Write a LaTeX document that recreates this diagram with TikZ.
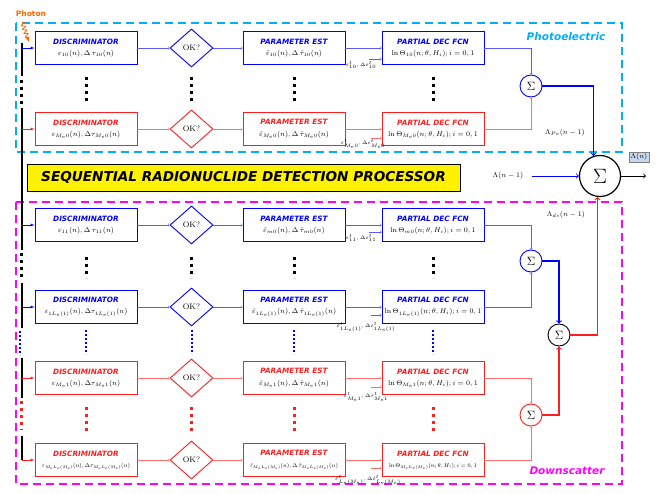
\documentclass[tikz,border=0pt]{standalone}
\usepackage{fontspec}
\usepackage{graphicx}
\usetikzlibrary{shapes.geometric,decorations.pathmorphing}
\newfontfamily\hfont{DejaVu Sans}
\definecolor{pblue}{RGB}{0,0,255}
\definecolor{lblue}{RGB}{90,90,255}
\definecolor{pred}{RGB}{255,30,30}
\definecolor{lred}{RGB}{255,110,110}
\definecolor{pcyan}{RGB}{0,176,240}
\definecolor{pmag}{RGB}{255,0,255}
\definecolor{porange}{RGB}{255,102,0}
\definecolor{outfill}{RGB}{200,215,240}
\newcommand{\blueh}[1]{{\hfont\bfseries\itshape\fontsize{7.3}{8}\selectfont\color{pblue}#1}}
\newcommand{\redh}[1]{{\hfont\bfseries\itshape\fontsize{7.3}{8}\selectfont\color{pred}#1}}
\newcommand{\fitmath}[1]{\resizebox{88pt}{!}{$#1$}}
\begin{document}
\begin{tikzpicture}[x=1pt, y=-1pt]
    \tikzset{
        blk/.style={draw, line width=0.9pt, minimum width=102pt, minimum height=33pt, align=center, inner sep=1pt, fill=white, font=\scriptsize},
        blkb/.style={blk, draw=pblue},
        blkr/.style={blk, draw=pred},
        okd/.style={draw, diamond, line width=0.9pt, minimum width=43pt, minimum height=38pt, inner sep=0pt, font=\footnotesize},
        sumc/.style={draw, circle, line width=0.9pt, minimum size=22pt, inner sep=0pt},
        lbl/.style={font=\tiny, inner sep=0pt},
        dotsq/.style={line width=3pt, dash pattern=on 3pt off 4pt},
        dotsm/.style={line width=2pt, dash pattern=on 2pt off 2pt}
        }
    \useasboundingbox (0,0) rectangle (665,494);

    % regions
    \draw[pcyan, line width=2pt, dash pattern=on 8pt off 5pt] (16,23) rectangle (622,152);
    \draw[pmag, line width=1.8pt, dash pattern=on 8pt off 5pt] (16,202) rectangle (622,484);
    \node (pelbl) [font=\hfont\bfseries\itshape\fontsize{10.5}{12}\selectfont, text=pcyan] at (566,37) {Photoelectric};
    \node (dslbl) [font=\hfont\bfseries\itshape\fontsize{10.5}{12}\selectfont, text=pmag] at (567,471) {Downscatter};

    % photon input
    \node (photon) [font=\hfont\bfseries\fontsize{7.5}{9}\selectfont, text=porange] at (31,14) {Photon};
    \coordinate (phin) at (29,42);
    \draw[porange, line width=0.8pt, decorate, decoration={snake, amplitude=2pt, segment length=4pt, post length=3pt}, -latex] (22,22) -- (phin);

    % input bus
    \draw[line width=1.6pt] (22,43) -- (22,76);
    \draw[dotsq] (21,80) -- (21,104);
    \draw[line width=1.6pt] (22,108) -- (22,250);
    \draw[dotsq] (21,253) -- (21,278);
    \draw[line width=1.6pt] (22,283) -- (22,328);
    \draw[dotsm, pblue] (20,331) -- (20,355);
    \draw[line width=1.6pt] (22,358) -- (22,398);
    \draw[dotsq, pred] (21,401) -- (21,430);
    \draw[line width=1.6pt] (22,436) -- (22,460);

    % banner
    \node (banner) [draw, fill=yellow, minimum width=433pt, minimum height=27pt, font=\hfont\bfseries\itshape\fontsize{13.6}{15}\selectfont] at (243.5,177.5) {SEQUENTIAL RADIONUCLIDE DETECTION PROCESSOR};

    % photoelectric rows
    \node (d1) [blkb] at (86,48) {\blueh{DISCRIMINATOR}\\[3pt] $\varepsilon_{10}(n),\Delta\,\tau_{10}(n)$};
    \node (o1) [okd, draw=pblue] at (191.5,48) {OK?};
    \node (p1) [blkb] at (294,48) {\blueh{PARAMETER EST}\\[3pt] $\hat{\varepsilon}_{10}(n),\Delta\,\hat{\tau}_{10}(n)$};
    \node (f1) [blkb] at (433,48) {\blueh{PARTIAL DEC FCN}\\[3pt] $\ln\Theta_{10}(n;\theta,H_i);i=0,1$};

    \node (d2) [blkr] at (86,129) {\redh{DISCRIMINATOR}\\[3pt] $\varepsilon_{M_e0}(n),\Delta\tau_{M_e0}(n)$};
    \node (o2) [okd, draw=pred] at (191.5,129) {OK?};
    \node (p2) [blkr] at (294,129) {\redh{PARAMETER EST}\\[4pt] $\hat{\varepsilon}_{M_e0}(n),\Delta\,\hat{\tau}_{M_e0}(n)$};
    \node (f2) [blkr] at (433,129) {\redh{PARTIAL DEC FCN}\\[3pt] $\ln\Theta_{M_e0}(n;\theta,H_i);i=0,1$};

    % downscatter rows
    \node (d3) [blkb] at (86,225) {\blueh{DISCRIMINATOR}\\[3pt] $\varepsilon_{11}(n),\Delta\,\tau_{11}(n)$};
    \node (o3) [okd, draw=pblue] at (191.5,225) {OK?};
    \node (p3) [blkb] at (294,225) {\blueh{PARAMETER EST}\\[3pt] $\hat{\varepsilon}_{m0}(n),\Delta\,\hat{\tau}_{m0}(n)$};
    \node (f3) [blkb] at (433,225) {\blueh{PARTIAL DEC FCN}\\[3pt] $\ln\Theta_{m0}(n;\theta,H_i);i=0,1$};

    \node (d4) [blkb] at (86,307) {\blueh{DISCRIMINATOR}\\[3pt] $\varepsilon_{1L_e(1)}(n),\Delta\tau_{1L_e(1)}(n)$};
    \node (o4) [okd, draw=pblue] at (191.5,307) {OK?};
    \node (p4) [blkb] at (294,307) {\blueh{PARAMETER EST}\\[3pt] $\hat{\varepsilon}_{1L_e(1)}(n),\Delta\,\hat{\tau}_{1L_e(1)}(n)$};
    \node (f4) [blkb] at (433,307) {\blueh{PARTIAL DEC FCN}\\[3pt] $\ln\Theta_{1L_e(1)}(n;\theta,H_i);i=0,1$};

    \node (d5) [blkr] at (86,378) {\redh{DISCRIMINATOR}\\[3pt] $\varepsilon_{M_e1}(n),\Delta\tau_{M_e1}(n)$};
    \node (o5) [okd, draw=pred] at (191.5,378) {OK?};
    \node (p5) [blkr] at (294,378) {\redh{PARAMETER EST}\\[4pt] $\hat{\varepsilon}_{M_e1}(n),\Delta\,\hat{\tau}_{M_e1}(n)$};
    \node (f5) [blkr] at (433,378) {\redh{PARTIAL DEC FCN}\\[3pt] $\ln\Theta_{M_e1}(n;\theta,H_i);i=0,1$};

    \node (d6) [blkr] at (86,460) {\redh{DISCRIMINATOR}\\[3pt] \fitmath{\varepsilon_{M_eL_e(M_e)}(n),\Delta\tau_{M_eL_e(M_e)}(n)}};
    \node (o6) [okd, draw=pred] at (191.5,460) {OK?};
    \node (p6) [blkr] at (294,460) {\redh{PARAMETER EST}\\[4pt] \fitmath{\hat{\varepsilon}_{M_eL_e(M_e)}(n),\Delta\,\hat{\tau}_{M_eL_e(M_e)}(n)}};
    \node (f6) [blkr] at (433,460) {\redh{PARTIAL DEC FCN}\\[3pt] \fitmath{\ln\Theta_{M_eL_e(M_e)}(n;\theta,H_i);i=0,1}};

    % vertical dots
    \draw[dotsq] (86,77) -- (86,101);  \draw[dotsq] (191.5,77) -- (191.5,101);
    \draw[dotsq] (294,77) -- (294,101); \draw[dotsq] (433,77) -- (433,101);
    \draw[dotsq] (86,257) -- (86,278);  \draw[dotsq] (191.5,257) -- (191.5,278);
    \draw[dotsq] (294,257) -- (294,278); \draw[dotsq] (433,257) -- (433,278);
    \draw[dotsm, pblue] (86,330) -- (86,354);  \draw[dotsm, pblue] (191.5,330) -- (191.5,354);
    \draw[dotsm, pblue] (294,330) -- (294,354); \draw[dotsm, pblue] (433,330) -- (433,354);
    \draw[dotsq, pred] (86,407) -- (86,431);  \draw[dotsq, pred] (191.5,407) -- (191.5,431);
    \draw[dotsq, pred] (294,407) -- (294,431); \draw[dotsq, pred] (433,407) -- (433,431);

    % feeds from bus
    \draw[-latex, pblue] (d1.west) ++(-13,0) -- (d1.west);
    \draw[-latex, pred] (d2.west) ++(-13,0) -- (d2.west);
    \draw[-latex, pblue] (d3.west) ++(-13,0) -- (d3.west);
    \draw[-latex, pblue] (d4.west) ++(-13,0) -- (d4.west);
    \draw[-latex, pred] (d5.west) ++(-13,0) -- (d5.west);
    \draw[-latex, pred] (d6.west) ++(-13,0) -- (d6.west);

    % row chains
    \draw[->, lblue] (d1) -- (o1); \draw[->, lblue] (o1) -- (p1); \draw[->, lblue] (p1) -- (f1);
    \draw[->, lred] (d2) -- (o2); \draw[->, lred] (o2) -- (p2); \draw[->, lred] (p2) -- (f2);
    \draw[->, lblue] (d3) -- (o3); \draw[->, lblue] (o3) -- (p3); \draw[->, lblue] (p3) -- (f3);
    \draw[->, lblue] (d4) -- (o4); \draw[->, lblue] (o4) -- (p4); \draw[->, lblue] (p4) -- (f4);
    \draw[->, lred] (d5) -- (o5); \draw[->, lred] (o5) -- (p5); \draw[->, lred] (p5) -- (f5);
    \draw[->, lred] (d6) -- (o6); \draw[->, lred] (o6) -- (p6); \draw[->, lred] (p6) -- (f6);

    % threshold inputs
    \coordinate (t1) at (369,59);  \draw[->, lblue] (t1) -- (t1 -| f1.west);
    \coordinate (t2) at (371,138); \draw[->, lred] (t2) -- (t2 -| f2.west);
    \coordinate (t3) at (369,232); \draw[->, lblue] (t3) -- (t3 -| f3.west);
    \coordinate (t4) at (371,315); \draw[->, lblue] (t4) -- (t4 -| f4.west);
    \coordinate (t5) at (371,387); \draw[->, lred] (t5) -- (t5 -| f5.west);
    \coordinate (t6) at (371,468); \draw[->, lred] (t6) -- (t6 -| f6.west);
    \node (l1) [lbl] at (361,65) {$\varepsilon^t_{10},\Delta\varepsilon^t_{10}$};
    \node (l2) [lbl] at (363,144) {$\varepsilon^t_{M_e0},\Delta\varepsilon^t_{M_e0}$};
    \node (l3) [lbl] at (361,238) {$\varepsilon^t_{11},\Delta\varepsilon^t_{11}$};
    \node (l4) [lbl] at (366,327) {$\hat{\varepsilon}^t_{1L_e(1)},\Delta\varepsilon^t_{1L_e(1)}$};
    \node (l5) [lbl] at (366,397) {$\varepsilon^t_{M_e1},\Delta\tau^t_{M_e1}$};
    \node (l6) [lbl] at (368,480) {$\hat{\varepsilon}^t_{L_e(M_e)},\Delta\hat{\varepsilon}^t_{L_e(M_e)}$};

    % summers
    \node (spe) [sumc, draw=pblue] at (531,86) {\large$\Sigma$};
    \node (sds1) [sumc, draw=pblue] at (531,261) {\large$\Sigma$};
    \node (sblk) [sumc] at (559,335) {\large$\Sigma$};
    \node (sds2) [sumc, draw=pred] at (531,415) {\large$\Sigma$};
    \node (big) [draw, circle, line width=1.2pt, minimum size=41pt, inner sep=0pt, font=\huge] at (600,176) {$\Sigma$};

    \draw[->, lblue] (f1.east) -| (spe.north);
    \draw[->, lred] (f2.east) -| (spe.south);
    \draw[->, lblue] (f3.east) -| (sds1.north);
    \draw[->, lblue] (f4.east) -| (sds1.south);
    \draw[->, lred] (f5.east) -| (sds2.north);
    \draw[->, lred] (f6.east) -| (sds2.south);
    \draw[->, pblue, line width=1.1pt] (sds1.east) -| (sblk.north);
    \draw[->, pred, line width=1.1pt] (sds2.east) -| (sblk.south);
    \draw[->, pblue, line width=1.1pt] (spe.east) -| (big.108);
    \draw[->, pred, line width=1.1pt] (sblk.east) -| (big.-97);

    % recursion and output
    \node (lampe) [font=\scriptsize] at (565,133) {$\Lambda_{Pe}(n-1)$};
    \node (lamds) [font=\scriptsize] at (566,215) {$\Lambda_{ds}(n-1)$};
    \node (lamin) [font=\scriptsize] at (508,176) {$\Lambda(n-1)$};
    \draw[->, pblue, line width=0.9pt] (lamin.east) ++(5,0) -- (big.west);
    \node (lamout) [draw=gray, fill=outfill, font=\scriptsize, inner sep=1.5pt] at (639,157) {$\Lambda(n)$};
    \coordinate (outend) at (646,176);
    \draw[->, line width=0.9pt] (big.east) -- (outend);
\end{tikzpicture}
\end{document}
